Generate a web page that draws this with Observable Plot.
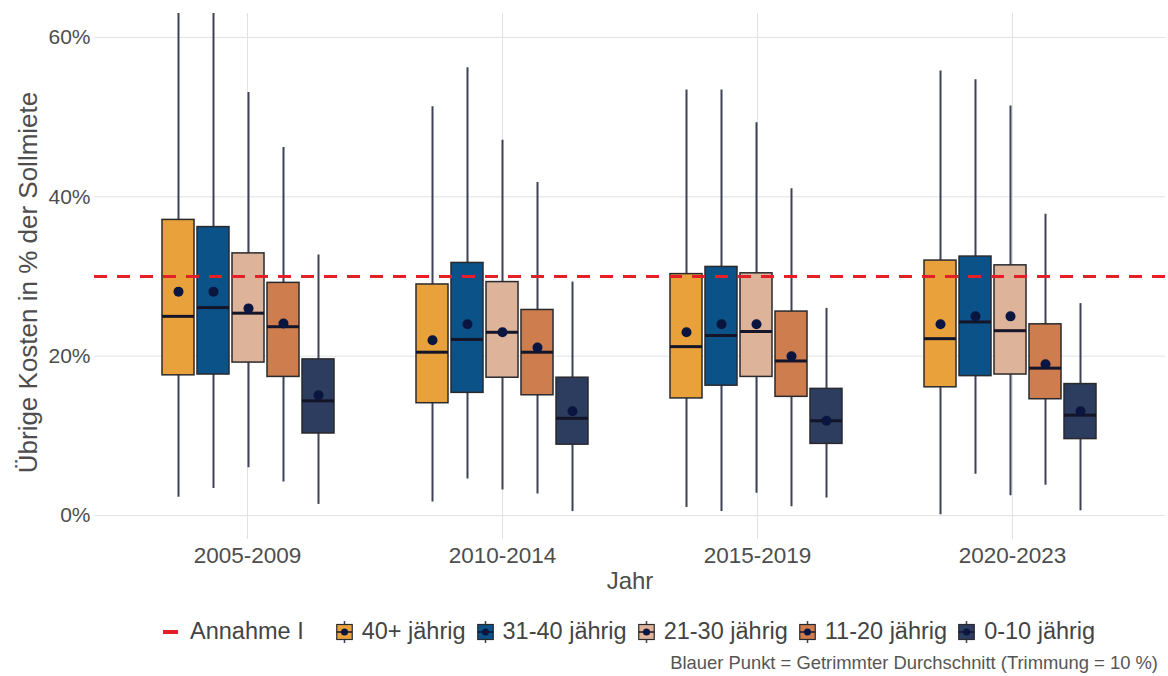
<!DOCTYPE html>
<html><head><meta charset="utf-8">
<script src="https://cdn.jsdelivr.net/npm/d3@7"></script>
<script src="https://cdn.jsdelivr.net/npm/@observablehq/plot@0.6"></script>
<style>
body{margin:0;background:#fff;font-family:"Liberation Sans",Arial,sans-serif;}
#wrap{position:relative;width:1168px;height:676px;overflow:hidden;background:#fff;}
#wrap .layer{position:absolute;left:0;top:0;}
#legend{position:absolute;top:618px;left:162px;display:flex;align-items:center;font-size:23.5px;color:#444;white-space:nowrap;}
#legend .item{display:flex;align-items:center;margin-right:11px;}
#legend .item svg{margin-right:9px;}
#caption{position:absolute;top:652px;right:10px;font-size:18.4px;color:#555;white-space:nowrap;}
</style></head><body>
<div id="wrap"><div id="legend"></div><div id="caption"></div></div>
<script>
const periods = ["2005-2009", "2010-2014", "2015-2019", "2020-2023"];
const ageGroups = ["40+ jährig", "31-40 jährig", "21-30 jährig", "11-20 jährig", "0-10 jährig"];
const boxColors = ["#E9A23B", "#0B5288", "#DDB39A", "#CD7D4E", "#2C3D5F"];
// values in % of Sollmiete, [period][age group]
const whiskerLow = [
  [2.3, 3.4, 6.0, 4.2, 1.4],
  [1.7, 4.6, 3.2, 2.7, 0.5],
  [1.0, 0.5, 2.8, 1.1, 2.2],
  [0.1, 5.2, 2.5, 3.8, 0.6]
];
const quartile1 = [
  [17.6, 17.7, 19.2, 17.4, 10.3],
  [14.1, 15.4, 17.3, 15.1, 8.9],
  [14.7, 16.3, 17.4, 14.9, 9.0],
  [16.1, 17.5, 17.7, 14.6, 9.6]
];
const medians = [
  [25.0, 26.1, 25.4, 23.7, 14.4],
  [20.5, 22.1, 23.0, 20.5, 12.2],
  [21.2, 22.6, 23.1, 19.4, 11.9],
  [22.2, 24.3, 23.2, 18.5, 12.6]
];
const quartile3 = [
  [37.1, 36.2, 32.9, 29.2, 19.6],
  [29.0, 31.7, 29.3, 25.8, 17.3],
  [30.3, 31.2, 30.4, 25.6, 15.9],
  [32.0, 32.5, 31.4, 24.0, 16.5]
];
const whiskerHigh = [
  [66.0, 66.0, 53.1, 46.2, 32.7],
  [51.3, 56.2, 47.1, 41.8, 29.3],
  [53.4, 53.4, 49.3, 41.0, 26.0],
  [55.8, 54.7, 51.4, 37.8, 26.6]
];
const trimmedMeans = [
  [28.1, 28.1, 26.0, 24.1, 15.1],
  [22.0, 24.0, 23.0, 21.1, 13.1],
  [23.0, 24.0, 24.0, 20.0, 11.9],
  [24.0, 25.0, 25.0, 19.0, 13.1]
];
const thresholdLabel = "Annahme I";
const thresholdValue = 30;
const yTicks = [0, 20, 40, 60];
const yTitle = "Übrige Kosten in % der Sollmiete";
const xTitle = "Jahr";
const captionText = "Blauer Punkt = Getrimmter Durchschnitt (Trimmung = 10 %)";

const rows = periods.flatMap((p, i) => ageGroups.map((a, j) => ({
  period: p, age: a,
  lo: whiskerLow[i][j], q1: quartile1[i][j], med: medians[i][j],
  q3: quartile3[i][j], hi: whiskerHigh[i][j], mean: trimmedMeans[i][j]
})));

const textColor = "#4D4D4D";
const gridColor = "#E2E2E2";
const font = '"Liberation Sans", Arial, sans-serif';
const frame = {width: 1168, height: 600, marginTop: 13, marginBottom: 61, marginLeft: 94, marginRight: 3};
const yScale = {domain: [-3, 63], axis: null};

// layer 1: grid, axes, titles
const baseLayer = Plot.plot({
  ...frame,
  style: {fontFamily: font, background: "#fff", overflow: "visible"},
  x: {type: "point", domain: periods, padding: 0.6, axis: null},
  y: yScale,
  marks: [
    Plot.ruleY(yTicks, {stroke: gridColor, strokeWidth: 1}),
    Plot.ruleX(periods, {stroke: gridColor, strokeWidth: 1}),
    Plot.text(yTicks, {y: d => d, text: d => d + "%", frameAnchor: "left", textAnchor: "end", dx: -4, fontSize: 21, fill: textColor}),
    Plot.text([yTitle], {text: d => d, frameAnchor: "left", textAnchor: "middle", lineAnchor: "middle", rotate: -90, dx: -66, dy: 6, fontSize: 26, fill: textColor}),
    Plot.axisX({anchor: "bottom", tickSize: 0, tickPadding: 8, fontSize: 22.5, label: null, color: textColor}),
    Plot.text([xTitle], {text: d => d, frameAnchor: "bottom", textAnchor: "middle", lineAnchor: "middle", dy: 42, fontSize: 24, fill: textColor})
  ]
});

// layer 2: boxplots, faceted by period
const boxLayer = Plot.plot({
  ...frame,
  style: {fontFamily: font, background: "transparent"},
  fx: {domain: periods, paddingInner: 0.2986, paddingOuter: 0.253, axis: null},
  x: {domain: ageGroups, paddingInner: 0.08, paddingOuter: 0.04, axis: null},
  y: yScale,
  color: {domain: ageGroups, range: boxColors},
  marks: [
    Plot.ruleX(rows, {fx: "period", x: "age", y1: "lo", y2: "hi", stroke: "#3D4257", strokeWidth: 2, clip: true}),
    Plot.barY(rows, {fx: "period", x: "age", y1: "q1", y2: "q3", fill: "age", stroke: "#2A2A2E", strokeWidth: 1.5}),
    Plot.tickY(rows, {fx: "period", x: "age", y: "med", stroke: "#15152A", strokeWidth: 3}),
    Plot.dot(rows, {fx: "period", x: "age", y: "mean", r: 5, fill: "#0A1540", stroke: "none"})
  ]
});

// layer 3: threshold line on top
const lineLayer = Plot.plot({
  ...frame,
  style: {background: "transparent"},
  y: yScale,
  marks: [
    Plot.ruleY([thresholdValue], {stroke: "#E41F26", strokeWidth: 3, strokeDasharray: "13,10"})
  ]
});

const wrap = document.getElementById("wrap");
const legendEl = document.getElementById("legend");
for (const svg of [baseLayer, boxLayer, lineLayer]) { svg.classList.add("layer"); wrap.insertBefore(svg, legendEl); }

// legend
const ns = "http://www.w3.org/2000/svg";
function mk(tag, attrs) { const e = document.createElementNS(ns, tag); for (const k in attrs) e.setAttribute(k, attrs[k]); return e; }
{
  const item = document.createElement("div"); item.className = "item"; item.style.marginRight = "32px";
  const s = mk("svg", {width: 18, height: 24});
  s.appendChild(mk("line", {x1: 1, x2: 16, y1: 12, y2: 12, stroke: "#E41F26", "stroke-width": 4}));
  s.style.marginRight = "10px";
  item.appendChild(s);
  const t = document.createElement("span"); t.textContent = thresholdLabel; item.appendChild(t);
  legendEl.appendChild(item);
}
ageGroups.forEach((a, j) => {
  const item = document.createElement("div"); item.className = "item";
  const s = mk("svg", {width: 17, height: 24});
  s.appendChild(mk("line", {x1: 8.5, x2: 8.5, y1: 1, y2: 23, stroke: "#3D4257", "stroke-width": 1.5}));
  s.appendChild(mk("rect", {x: 0.75, y: 4.5, width: 15.5, height: 15, fill: boxColors[j], stroke: "#2A2A2E", "stroke-width": 1.2}));
  s.appendChild(mk("line", {x1: 0.75, x2: 16.25, y1: 12, y2: 12, stroke: "#15152A", "stroke-width": 1.5}));
  s.appendChild(mk("circle", {cx: 8.5, cy: 12, r: 3.5, fill: "#0A1540"}));
  item.appendChild(s);
  const t = document.createElement("span"); t.textContent = a; item.appendChild(t);
  legendEl.appendChild(item);
});
document.getElementById("caption").textContent = captionText;
</script>
</body></html>
